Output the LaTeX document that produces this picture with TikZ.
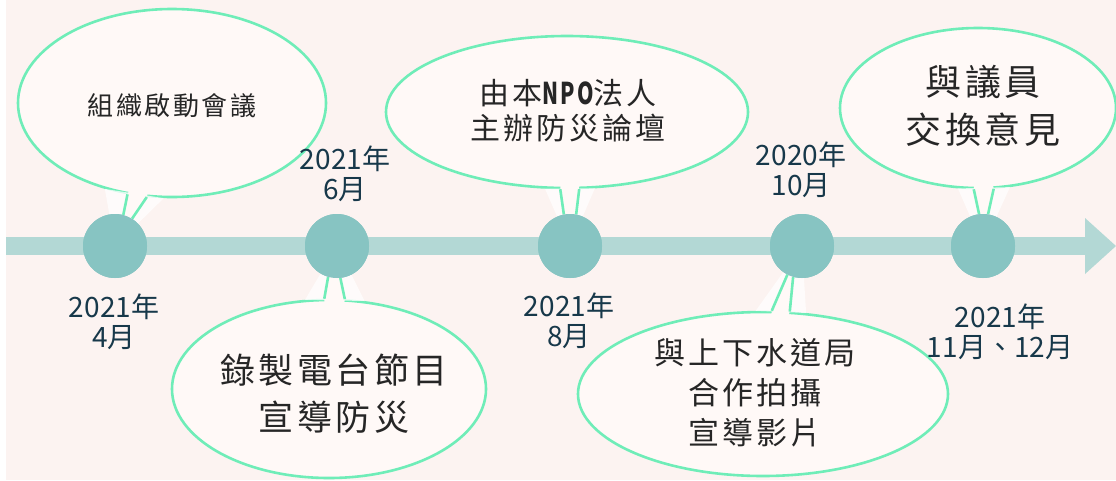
\documentclass[tikz,border=0pt]{standalone}
\usepackage{fontspec}
\setmainfont{Noto Sans CJK TC}
\newfontfamily\cjk{Noto Sans CJK TC}[LetterSpace=10]
\usetikzlibrary{shapes.geometric,calc}
\definecolor{bg}{HTML}{FCF3F1}
\definecolor{barc}{HTML}{B3D8D5}
\definecolor{dotc}{HTML}{87C4C2}
\definecolor{edgec}{HTML}{6FEDB8}
\definecolor{bubc}{HTML}{FFF9F7}
\definecolor{datec}{HTML}{17384A}
\begin{document}
\begin{tikzpicture}[x=1pt,y=-1pt,
  dotnode/.style={circle,fill=dotc,minimum size=64pt,inner sep=0pt},
  bubble/.style={ellipse,fill=bubc,draw=edgec,line width=2.6pt,inner sep=0pt},
  tailline/.style={draw=edgec,line width=2.6pt,line join=round},
  glow/.style={fill=white,opacity=0.75},
  datelbl/.style={text=datec,font=\fontsize{28}{30}\selectfont,align=center,inner sep=0pt},
  bubtext/.style={text=black!85,align=center,inner sep=0pt}
]
\useasboundingbox (0,0) rectangle (1116,480);
\fill[white] (0,0) rectangle (1116,480);
\fill[bg] (6,0) rectangle (1116,480);

% circles (positions)
\coordinate (p1) at (115,246);
\coordinate (p2) at (337,246);
\coordinate (p3) at (570,246);
\coordinate (p4) at (802,246);
\coordinate (p5) at (983,246);

% bubbles
\node[bubble,minimum width=308pt,minimum height=188pt] (b1) at (172,103) {};
\node[bubble,minimum width=314pt,minimum height=178pt] (b2) at (329,389) {};
\node[bubble,minimum width=362pt,minimum height=152pt] (b3) at (567,112) {};
\node[bubble,minimum width=370pt,minimum height=164pt] (b4) at (763,394) {};
\node[bubble,minimum width=276pt,minimum height=160pt] (b5) at (978,108) {};

% glows
\fill[glow] (b1.-128) -- (p1) -- (b1.-95) -- cycle;
\fill[glow] (b2.105) -- (p2) -- (b2.68) -- cycle;
\fill[glow] (b3.-106) -- (p3) -- (b3.-70) -- cycle;
\fill[glow] (b4.95) -- (p4) -- (b4.62) -- cycle;
\fill[glow] (b5.-104) -- (p5) -- (b5.-68) -- cycle;

% timeline bar and arrow
\coordinate (barstart) at (6,246);
\coordinate (barend) at (1085,246);
\coordinate (tip) at (1116,246);
\draw[barc,line width=18pt] (barstart) -- (barend);
\fill[barc] ($(barend)+(0,-28)$) -- (tip) -- ($(barend)+(0,28)$) -- cycle;

% dots
\node[dotnode] (c1) at (p1) {};
\node[dotnode] (c2) at (p2) {};
\node[dotnode] (c3) at (p3) {};
\node[dotnode] (c4) at (p4) {};
\node[dotnode] (c5) at (p5) {};

% tails
\fill[bubc] (b1.-116) -- (c1.75) -- (c1.58) -- (b1.-105) -- (b1.center) -- cycle;
\draw[tailline] (b1.-116) -- (c1.75) (b1.-105) -- (c1.58);
\fill[bubc] (b2.93) -- (c2.-106) -- (c2.-84) -- (b2.80) -- (b2.center) -- cycle;
\draw[tailline] (b2.93) -- (c2.-106) (b2.80) -- (c2.-84);
\fill[bubc] (b3.-95) -- (c3.101) -- (c3.79) -- (b3.-81) -- (b3.center) -- cycle;
\draw[tailline] (b3.-95) -- (c3.101) (b3.-81) -- (c3.79);
\fill[bubc] (b4.84) -- (c4.-117) -- (c4.-106) -- (b4.72) -- (b4.center) -- cycle;
\draw[tailline] (b4.84) -- (c4.-117) (b4.72) -- (c4.-106);
\fill[bubc] (b5.-93) -- (c5.97) -- (c5.81) -- (b5.-79) -- (b5.center) -- cycle;
\draw[tailline] (b5.-93) -- (c5.97) (b5.-79) -- (c5.81);

% redraw dots over tail ends
\fill[dotc] (c1) circle (32pt);
\fill[dotc] (c2) circle (32pt);
\fill[dotc] (c3) circle (32pt);
\fill[dotc] (c4) circle (32pt);
\fill[dotc] (c5) circle (32pt);

% bubble texts
\node[bubtext,font=\cjk\fontsize{26}{32}\selectfont] (t1) at (172,106) {組織啟動會議};
\node[bubtext,font=\cjk\fontsize{35}{47}\selectfont] (t2) at (334,394) {錄製電台節目\\宣導防災};
\node[bubtext,font=\cjk\fontsize{30}{35}\selectfont] (t3) at (568,111) {由本\scalebox{0.7}[1]{\bfseries NPO}法人\\主辦防災論壇};
\node[bubtext,font=\cjk\fontsize{31}{40}\selectfont] (t4) at (755,393) {與上下水道局\\合作拍攝\\宣導影片};
\node[bubtext,font=\cjk\fontsize{36}{48}\selectfont] (t5) at (983,106) {與議員\\交換意見};

% date labels
\node[datelbl] (d1) at (114,322) {2021年\\4月};
\node[datelbl] (d2) at (345,174) {2021年\\6月};
\node[datelbl] (d3) at (569,321) {2021年\\8月};
\node[datelbl] (d4) at (801,170) {2020年\\10月};
\node[datelbl] (d5) at (1000,332) {2021年\\11月、12月};
\end{tikzpicture}
\end{document}
